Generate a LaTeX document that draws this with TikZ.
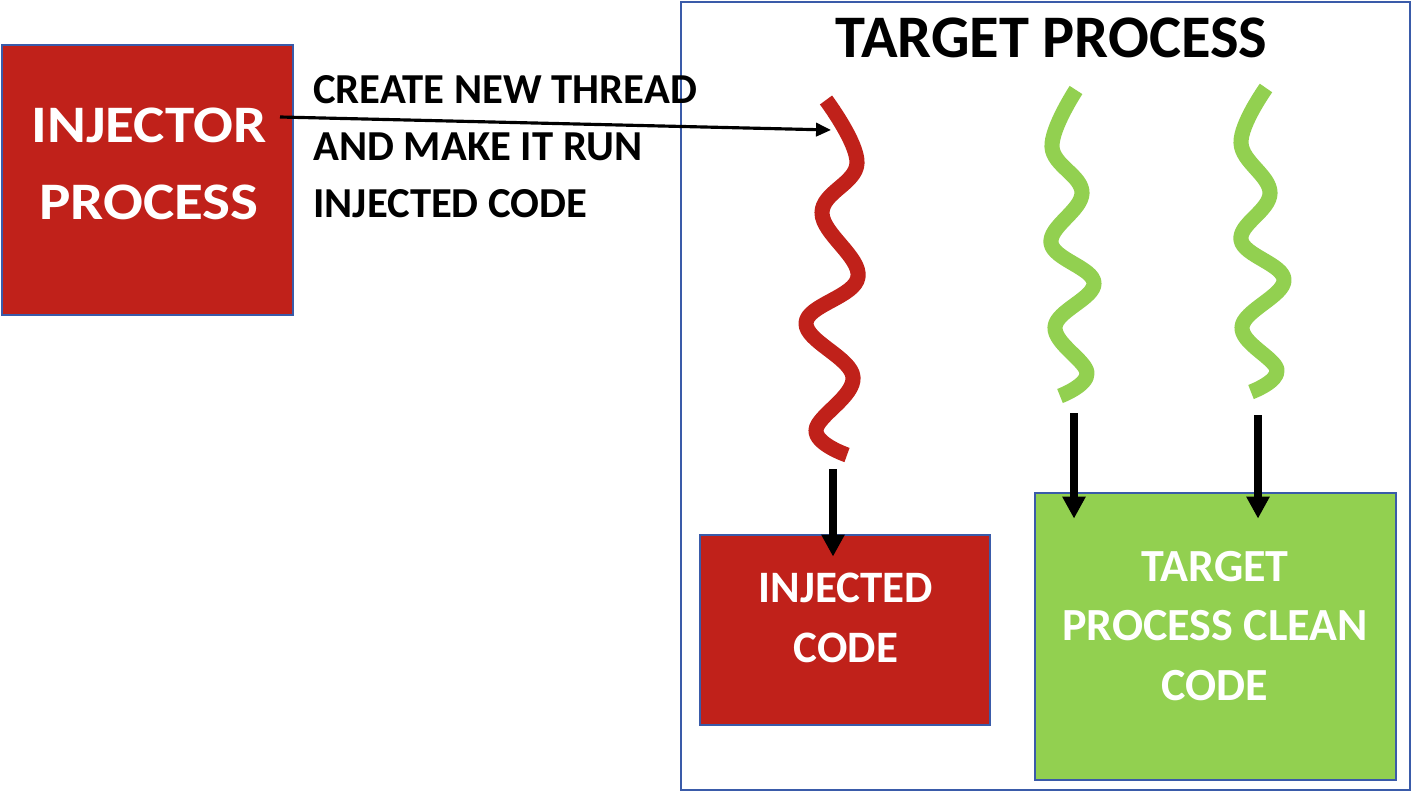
\documentclass[tikz,border=0pt]{standalone}
\usepackage{fontspec}
\setmainfont{Carlito}
\newfontfamily\widefont{Carlito}[FakeStretch=1.12]
\usepackage{tikz}
\usetikzlibrary{positioning,arrows.meta,calc}
\definecolor{inj}{HTML}{C0211A}
\definecolor{clean}{HTML}{92D050}
\definecolor{frame}{HTML}{3A5BA9}
\tikzset{
  box/.style    = {draw=frame, line width=1.6pt, inner sep=0pt},
  boxtxt/.style = {text=white, align=center, inner sep=0pt},
  thread/.style = {line width=8.6pt, line cap=butt, line join=round},
  flow/.style   = {-{Triangle[length=8.5pt, width=7.5pt]}, line width=1.8pt},
  down/.style   = {-{Triangle[length=12.5pt, width=12.5pt]}, line width=4.2pt},
}

\begin{document}
\begin{tikzpicture}[x=0.02cm, y=-0.02cm]
\useasboundingbox (0,0) rectangle (1419,794);

% ------------------------------------------------------------------ frames
\node[box, line width=1.5pt, minimum width=14.58cm, minimum height=15.76cm] (target) at (1045.5,396) {};
\node[font=\bfseries\fontsize{34.4pt}{40pt}\selectfont] (ttl) at (1051.5,38) {TARGET PROCESS};

\node[box, fill=inj, minimum width=5.82cm, minimum height=5.4cm] (injector) at (147.5,180) {};
\node[boxtxt, font=\widefont\bfseries\fontsize{30pt}{43.8pt}\selectfont] (injtxt) at (149,164) {INJECTOR\\PROCESS};

\node[box, fill=inj, minimum width=5.8cm, minimum height=3.8cm] (injcode) at (845,630) {};
\node[boxtxt, font=\bfseries\fontsize{25.6pt}{34.1pt}\selectfont] (injcodetxt) at (846,618) {INJECTED\\CODE};

\node[box, fill=clean, minimum width=7.22cm, minimum height=5.74cm] (clean) at (1215.5,636.5) {};
\node[boxtxt, font=\bfseries\fontsize{26.2pt}{34.1pt}\selectfont] (cleantxt) at (1215,626) {TARGET\\PROCESS CLEAN\\CODE};

\node[align=left, anchor=west, inner sep=0pt, font=\bfseries\fontsize{24.3pt}{32.4pt}\selectfont] (note) at (313,147)
  {CREATE NEW THREAD\\AND MAKE IT RUN\\INJECTED CODE};

% ------------------------------------------------------------------ threads
\draw[thread, inj] plot[smooth, tension=0.65] coordinates
  {(826,100) (857,163) (822,213) (858,277) (806,323) (853,377) (816,430) (847,455)};
\draw[thread, clean] plot[smooth, tension=0.65] coordinates
  {(1076,90) (1052,147) (1082,193) (1051,243) (1094,283) (1055,327) (1087,373) (1060,396)};
\draw[thread, clean] plot[smooth, tension=0.65] coordinates
  {(1266,88) (1241,143) (1270,193) (1241,240) (1284,280) (1242,327) (1277,370) (1251,392)};

\coordinate (launch) at (280,117);
\coordinate (redtop) at (831,130);
\coordinate (redfoot) at (833,469);
\coordinate (leftfoot) at (1074,413);
\coordinate (rightfoot) at (1258,415);

% ------------------------------------------------------------------ arrows
\draw[flow] (launch) -- (redtop);
\draw[down] (redfoot) -- ([yshift=-0.46cm]redfoot |- injcode.north);
\draw[down] (leftfoot) -- ([yshift=-0.54cm]leftfoot |- clean.north);
\draw[down] (rightfoot) -- ([yshift=-0.54cm]rightfoot |- clean.north);

\end{tikzpicture}
\end{document}
